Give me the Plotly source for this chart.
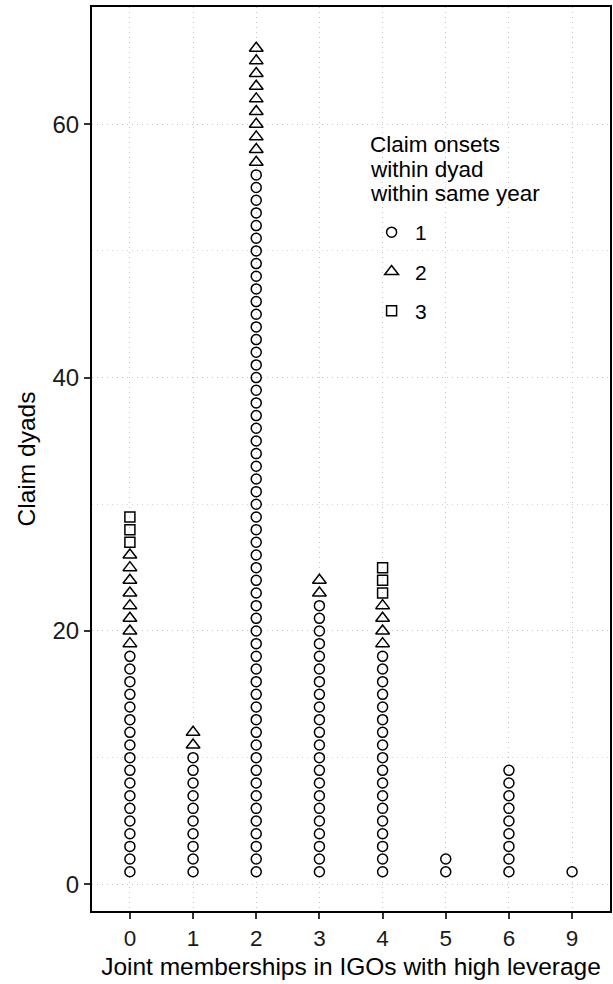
import plotly.graph_objects as go

# Joint memberships in high-leverage IGOs (category labels on the x axis)
categories = ["0", "1", "2", "3", "4", "5", "6", "9"]
# Number of claim dyads by count of claim onsets within the same year
onsets_one = [18, 10, 56, 22, 18, 2, 9, 1]
onsets_two = [8, 2, 10, 2, 4, 0, 0, 0]
onsets_three = [3, 0, 0, 0, 3, 0, 0, 0]

series = [
    ("1", onsets_one, "circle-open", 10),
    ("2", onsets_two, "triangle-up-open", 12),
    ("3", onsets_three, "square-open", 10),
]
legend_title = ["Claim onsets", "within dyad", "within same year"]

FONT = "Liberation Sans, Arial, sans-serif"
GRID = "#c4c4c4"
PLOT_TOP, PLOT_BOTTOM = 7, 911
PLOT_H = PLOT_BOTTOM - PLOT_TOP


def paper_y(px):
    return (PLOT_BOTTOM - px) / PLOT_H


fig = go.Figure()
base = [0] * len(categories)
for name, counts, symbol, size in series:
    xs, ys = [], []
    for k, cat in enumerate(categories):
        for j in range(counts[k]):
            xs.append(cat)
            ys.append(base[k] + j + 1)
        base[k] += counts[k]
    fig.add_trace(go.Scatter(
        x=xs, y=ys, mode="markers", name=name,
        legendgroup=name,
        marker=dict(symbol=symbol, size=size, color="black",
                    line=dict(color="black", width=1.5)),
    ))

# Legend heading, one line per annotation for tighter line spacing
for i, line in enumerate(legend_title):
    fig.add_annotation(
        text=line, xref="paper", yref="paper",
        x=0.533, y=paper_y(144 + 25 * i), xanchor="left", yanchor="middle",
        showarrow=False, font=dict(size=22.5, family=FONT, color="black"),
    )

fig.update_layout(
    width=613, height=984,
    margin=dict(l=92, r=1, t=PLOT_TOP, b=984 - PLOT_BOTTOM),
    paper_bgcolor="white", plot_bgcolor="white",
    font=dict(family=FONT, size=22, color="black"),
    showlegend=True,
    legend=dict(
        x=0.533, y=paper_y(212), xanchor="left", yanchor="top",
        bgcolor="rgba(0,0,0,0)",
        font=dict(size=21, family=FONT),
        traceorder="grouped", tracegroupgap=9,
        itemwidth=37,
    ),
    xaxis=dict(
        type="category", categoryorder="array", categoryarray=categories,
        range=[-0.6, 7.6],
        showline=True, linecolor="black", linewidth=2, mirror=True,
        ticks="outside", ticklen=6, tickcolor="#333", tickwidth=1.5,
        showgrid=True, gridcolor=GRID, griddash="1px,4px", gridwidth=1,
        zeroline=False,
        tickfont=dict(size=22.5, color="#1a1a1a"),
        title=dict(text="Joint memberships in IGOs with high leverage",
                   font=dict(size=24.5), standoff=8),
    ),
    yaxis=dict(
        range=[-2.1, 69.25],
        tickvals=[0, 20, 40, 60],
        showline=True, linecolor="black", linewidth=2, mirror=True,
        ticks="outside", ticklen=6, tickcolor="#333", tickwidth=1.5,
        showgrid=True, gridcolor=GRID, griddash="1px,4px", gridwidth=1,
        minor=dict(dtick=10, tick0=0, showgrid=True, gridcolor="#d4d4d4",
                   griddash="1px,4px", gridwidth=1, ticks=""),
        zeroline=False,
        tickfont=dict(size=24, color="#1a1a1a"),
        title=dict(text="Claim dyads", font=dict(size=24.5), standoff=10),
    ),
)

fig.write_html("out.html")
